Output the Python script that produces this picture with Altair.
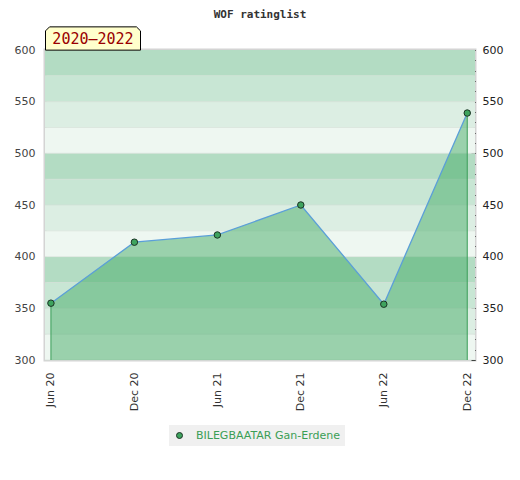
import altair as alt
import pandas as pd

# ---- data ----
labels = ["Jun 20", "Dec 20", "Jun 21", "Dec 21", "Jun 22", "Dec 22"]
dates = ["2020-06-01", "2020-12-01", "2021-06-01", "2021-12-01", "2022-06-01", "2022-12-01"]
ratings = [355, 414, 421, 450, 354, 539]
player = "BILEGBAATAR Gan-Erdene"
title_text = "WOF ratinglist"
badge_text = "2020\u20132022"

band_lo = list(range(300, 600, 25))
band_palette = ["#eef7f1", "#dceee3", "#c8e6d4", "#b3dcc3"]
y_label_values = list(range(300, 601, 50))
y_minor_values = list(range(300, 601, 10))

# ---- tables ----
series = pd.DataFrame({"date": dates, "label": labels, "rating": ratings, "player": player})
bands = pd.DataFrame({
    "lo": band_lo,
    "hi": [v + 25 for v in band_lo],
    "color": [band_palette[i % 4] for i in range(len(band_lo))],
})
badge = pd.DataFrame({"t": [badge_text]})

def dt(s):
    y, m, d = (int(p) for p in s.split("-"))
    return alt.DateTime(year=y, month=m, date=d, utc=True)

x_scale = alt.Scale(type="utc", domain=[dt("2020-05-19"), dt("2022-12-18")])
y_scale = alt.Scale(domain=[300, 600], nice=False, zero=False)

x_enc = alt.X(
    "date:T",
    scale=x_scale,
    axis=alt.Axis(
        values=[dt(d) for d in dates],
        labelExpr="utcFormat(datum.value, '%b %y')",
        labelAngle=270, labelAlign="right", labelBaseline="middle",
        labelPadding=12, ticks=False, domain=False, grid=False, title=None,
        labelFont="DejaVu Sans", labelFontSize=11, labelColor="#333333",
    ),
)

left_axis = alt.Axis(
    orient="left", values=y_label_values, ticks=False, domain=False, grid=False,
    title=None, labelPadding=10, labelFont="DejaVu Sans", labelFontSize=11,
    labelColor="#444444",
)
right_axis = alt.Axis(
    orient="right", values=y_minor_values, ticks=True, tickSize=4, tickColor="#000000",
    tickWidth=1, domain=False, grid=False, title=None, offset=-4, labelPadding=7,
    labelExpr="datum.value % 50 === 0 ? datum.label : ''",
    labelFont="DejaVu Sans", labelFontSize=11, labelColor="#222222",
)

band_layer = alt.Chart(bands).mark_rect().encode(
    y=alt.Y("lo:Q", scale=y_scale, axis=left_axis),
    y2="hi:Q",
    fill=alt.Fill("color:N", scale=None, legend=None),
)

grid_layer = alt.Chart(bands).mark_rule(color="#d3ddd6", strokeWidth=1, opacity=0.6).encode(
    y=alt.Y("lo:Q", scale=y_scale, axis=right_axis),
)

base = alt.Chart(series)

area_layer = base.mark_area(color="#46ab68", opacity=0.5).encode(
    x=x_enc,
    y=alt.Y("rating:Q", scale=y_scale, axis=None),
    y2=alt.datum(300),
)

edge_layer = base.mark_rule(color="#3a9e58", strokeWidth=1).encode(
    x=x_enc,
    y=alt.Y("rating:Q", scale=y_scale, axis=None),
    y2=alt.datum(300),
).transform_filter(alt.FieldOneOfPredicate(field="label", oneOf=[labels[0], labels[-1]]))

line_layer = base.mark_line(color="#5b9fd8", strokeWidth=1.3).encode(
    x=x_enc,
    y=alt.Y("rating:Q", scale=y_scale, axis=None),
)

point_layer = base.mark_point(
    filled=True, size=42, stroke="#1b3324", strokeWidth=1, opacity=1
).encode(
    x=x_enc,
    y=alt.Y("rating:Q", scale=y_scale, axis=None),
    color=alt.Color(
        "player:N",
        scale=alt.Scale(range=["#3ea35e"]),
        legend=alt.Legend(
            title=None, orient="none", legendX=124, legendY=375,
            fillColor="#f0f0f0", padding=5, symbolType="circle", symbolSize=36,
            symbolStrokeColor="#1b3324", symbolStrokeWidth=1,
            labelOffset=11, labelFont="DejaVu Sans", labelFontSize=11,
            labelColor="#3a9e55",
        ),
    ),
)

badge_shape = "M-1,0.245 L-1,-0.16 L-0.915,-0.245 L0.915,-0.245 L1,-0.16 L1,0.245 Z"
badge_box = alt.Chart(badge).mark_point(
    shape=badge_shape, filled=True, fill="#ffffcc", stroke="#000000",
    strokeWidth=1, size=95 * 95, opacity=1
).encode(x=alt.value(48), y=alt.value(-11.5))

badge_label = alt.Chart(badge).mark_text(
    font="DejaVu Sans Mono", fontSize=15, color="#990000", align="center",
    baseline="middle"
).encode(x=alt.value(48), y=alt.value(-11), text="t:N")

chart = alt.layer(
    band_layer, grid_layer, area_layer, edge_layer, line_layer, point_layer,
    badge_box, badge_label,
).resolve_axis(y="independent").properties(
    width=430, height=310,
    padding={"left": 37, "top": 42, "right": 37, "bottom": 110},
    autosize=alt.AutoSizeParams(type="none"),
    title=alt.TitleParams(
        title_text, font="DejaVu Sans Mono", fontSize=11, fontWeight="bold",
        color="#333333", anchor="middle", frame="group", offset=5,
    ),
).configure_view(stroke="#d4d4d4", strokeWidth=3)

chart.save("out.html", embed_options={"renderer": "svg", "actions": False})
